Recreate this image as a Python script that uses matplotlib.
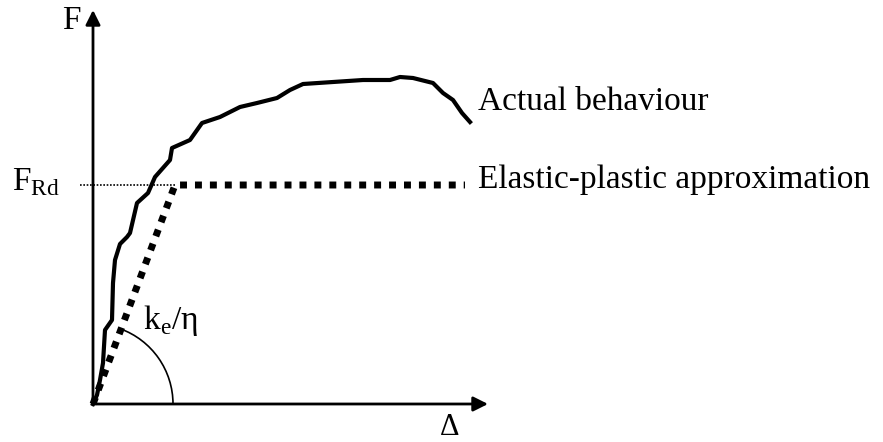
import numpy as np
import matplotlib
matplotlib.use('Agg')
import matplotlib.pyplot as plt
from matplotlib.patches import Arc

plt.rcParams['font.family'] = ['Liberation Serif', 'DejaVu Serif']
plt.rcParams['mathtext.fontset'] = 'custom'
plt.rcParams['mathtext.rm'] = 'Liberation Serif'

# actual behaviour (displacement, force)
actualDisp = [0, 4, 7, 10, 12, 19, 20, 22, 27, 34, 37, 44, 55, 62, 77, 79, 97, 109,
              127, 137, 147, 164, 184, 197, 210, 240, 270, 297, 307, 320, 340, 350, 360, 369, 377]
actualForce = [0, 9, 24, 41, 74, 84, 121, 144, 160, 167, 171, 201, 211, 227, 244, 256, 264, 281,
               287, 292, 297, 301, 306, 314, 320, 322, 324, 324, 327, 326, 321, 311, 304, 291, 282]

# elastic-plastic approximation
epDisp = [0, 82, 372]
epForce = [0, 219, 219]
FRd = 219

axisX = 395
axisY = 394
arcRadius = 80
arcAngle = 70

fig = plt.figure(figsize=(8.83, 4.42), dpi=100)
ax = fig.add_axes([0, 0, 1, 1])
ax.set_xlim(-93, 790)
ax.set_ylim(-38, 404)
ax.axis('off')

# axes with arrows
ax.annotate('', xy=(0, axisY), xytext=(0, -1),
            arrowprops=dict(arrowstyle='-|>', color='black', lw=2, mutation_scale=22,
                            shrinkA=0, shrinkB=0))
ax.annotate('', xy=(axisX, 0), xytext=(-1, 0),
            arrowprops=dict(arrowstyle='-|>', color='black', lw=2, mutation_scale=22,
                            shrinkA=0, shrinkB=0))

# F_Rd reference line
ax.plot([-13, 82], [FRd, FRd], color='black', lw=1.2, linestyle=(0, (1, 1)))

# curves
ax.plot(actualDisp, actualForce, color='black', lw=3, solid_joinstyle='round')
ax.plot(epDisp, epForce, color='black', lw=5, linestyle=(0, (1, 1.15)), dash_capstyle='butt')

# stiffness arc
ax.add_patch(Arc((0, 0), 2 * arcRadius, 2 * arcRadius, theta1=0, theta2=arcAngle,
                 color='black', lw=1.2))

fs = 24
ax.text(-31, 383, 'F', fontsize=fs, ha='left', va='center')
ax.text(-81, FRd + 3, r'F$_{\mathrm{Rd}}$', fontsize=fs, ha='left', va='center')
ax.text(357, -31, 'Δ', fontsize=fs - 2, ha='center', va='baseline')
ax.text(50, 83, r'k$_{\mathrm{e}}$/η', fontsize=fs, ha='left', va='center')
ax.text(385, 302, 'Actual behaviour', fontsize=fs, ha='left', va='center')
ax.text(385, 224, 'Elastic-plastic approximation', fontsize=fs, ha='left', va='center')

fig.savefig('out.png', dpi=100)
